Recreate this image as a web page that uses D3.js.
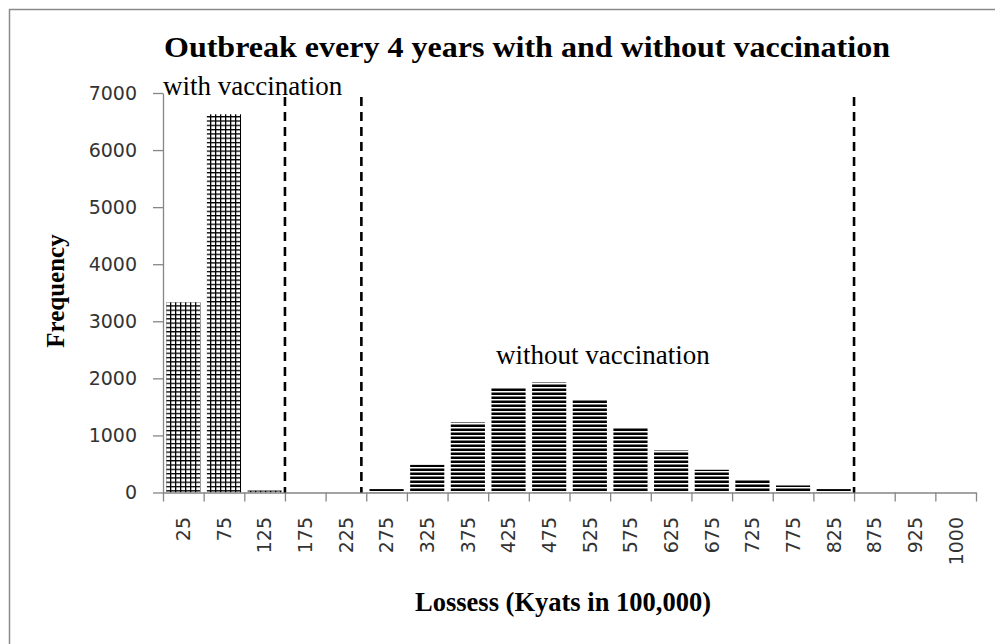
<!DOCTYPE html>
<html>
<head>
<meta charset="utf-8">
<script src="https://cdn.jsdelivr.net/npm/d3@7"></script>
<style>
  body { margin: 0; background: #fff; }
  svg { display: block; }
</style>
</head>
<body>
<svg id="chart" width="995" height="644"></svg>
<script>
// Loss classes (Kyats in 100,000), one bar slot per class
const categories = ["25", "75", "125", "175", "225", "275", "325", "375", "425", "475",
                    "525", "575", "625", "675", "725", "775", "825", "875", "925", "1000"];
// Simulated frequencies
const withVaccination    = [3333, 6627, 35, 0, 0, 0, 0, 0, 0, 0, 0, 0, 0, 0, 0, 0, 0, 0, 0, 0];
const withoutVaccination = [0, 0, 0, 0, 0, 60, 485, 1227, 1840, 1927, 1624, 1139, 736, 398, 222, 123, 60, 0, 0, 0];
// Frequency axis ticks
const yTicks = [0, 1000, 2000, 3000, 4000, 5000, 6000, 7000];
// Loss values of the dashed range separators and the height they reach
const separators = [150, 244, 850];
const separatorTop = 6930;

const titleText = "Outbreak every 4 years with and without vaccination";
const xTitleText = "Lossess (Kyats in 100,000)";
const yTitleText = "Frequency";
const withLabel = "with vaccination";
const withoutLabel = "without vaccination";

const svg = d3.select("#chart");
const plot = { left: 163, right: 976, top: 93, bottom: 492.5 };

// Fill patterns
const defs = svg.append("defs");
const grid = defs.append("pattern")
  .attr("id", "gridFill").attr("patternUnits", "userSpaceOnUse")
  .attr("width", 5).attr("height", 4.3);
grid.append("rect").attr("width", 5).attr("height", 4.3).attr("fill", "#fff");
grid.append("rect").attr("x", 0).attr("y", 0).attr("width", 1.3).attr("height", 4.3).attr("fill", "#000");
grid.append("rect").attr("x", 0).attr("y", 0).attr("width", 5).attr("height", 1.3).attr("fill", "#000");

const stripes = defs.append("pattern")
  .attr("id", "stripeFill").attr("patternUnits", "userSpaceOnUse")
  .attr("width", 8).attr("height", 4);
stripes.append("rect").attr("width", 8).attr("height", 4).attr("fill", "#fff");
stripes.append("rect").attr("y", 0.5).attr("width", 8).attr("height", 2.5).attr("fill", "#000");

// Outer frame (top and left edges visible)
svg.append("path")
  .attr("d", "M9.5,650 V9.5 H1000")
  .attr("fill", "none").attr("stroke", "#8a8a8a").attr("stroke-width", 1.5);

// Scales
const x = d3.scaleBand().domain(categories).range([plot.left, plot.right])
  .paddingInner(0.16).paddingOuter(0.08);
const lossX = d3.scaleLinear().domain([0, 1000]).range([plot.left, plot.right]);
const y = d3.scaleLinear().domain([0, 7000]).range([plot.bottom, plot.top]);

// Bars
svg.append("g").selectAll("rect")
  .data(categories.map((c, i) => ({ c, v: withVaccination[i] })).filter(d => d.v > 0))
  .join("rect")
  .attr("x", d => x(d.c)).attr("width", x.bandwidth())
  .attr("y", d => y(d.v)).attr("height", d => y(0) - y(d.v))
  .attr("fill", "url(#gridFill)");

svg.append("g").selectAll("rect")
  .data(categories.map((c, i) => ({ c, v: withoutVaccination[i] })).filter(d => d.v > 0))
  .join("rect")
  .attr("x", d => x(d.c)).attr("width", x.bandwidth())
  .attr("y", d => y(d.v)).attr("height", d => y(0) - y(d.v))
  .attr("fill", "url(#stripeFill)");

// Y axis
const yAxis = svg.append("g")
  .attr("transform", `translate(${plot.left},0)`)
  .call(d3.axisLeft(y).tickValues(yTicks).tickFormat(d3.format("d"))
    .tickSize(10).tickSizeOuter(0).tickPadding(16));
yAxis.select(".domain").attr("stroke", "#868686").attr("stroke-width", 1.3);
yAxis.selectAll(".tick line").attr("stroke", "#868686").attr("stroke-width", 1.3);
yAxis.selectAll(".tick text")
  .attr("font-family", "DejaVu Sans").attr("font-size", 19).attr("fill", "#333");

// X axis: ticks on class boundaries, labels in the class centres
const xAxis = svg.append("g")
  .attr("transform", `translate(0,${plot.bottom})`)
  .call(d3.axisBottom(lossX).tickValues(d3.range(0, 1001, 50)).tickFormat("").tickSize(9).tickSizeOuter(0));
xAxis.select(".domain").attr("stroke", "#868686").attr("stroke-width", 1.3);
xAxis.selectAll(".tick line").attr("stroke", "#868686").attr("stroke-width", 1.3);

svg.append("g").selectAll("text")
  .data(categories)
  .join("text")
  .attr("transform", d => `translate(${x(d) + x.bandwidth() / 2},517) rotate(-90)`)
  .attr("text-anchor", "end").attr("dy", "0.36em")
  .attr("font-family", "DejaVu Sans").attr("font-size", 19).attr("fill", "#333")
  .text(d => d);

// Dashed separators
svg.append("g").selectAll("line")
  .data(separators)
  .join("line")
  .attr("x1", d => lossX(d)).attr("x2", d => lossX(d))
  .attr("y1", y(separatorTop)).attr("y2", y(0))
  .attr("stroke", "#000").attr("stroke-width", 2.6).attr("stroke-dasharray", "9,6");

// Titles and annotations
svg.append("text")
  .attr("x", 164).attr("y", 57)
  .attr("textLength", 726).attr("lengthAdjust", "spacingAndGlyphs")
  .attr("font-family", "Liberation Serif").attr("font-weight", "bold").attr("font-size", 30)
  .attr("fill", "#000").text(titleText);

svg.append("text")
  .attr("x", 563).attr("y", 611).attr("text-anchor", "middle")
  .attr("font-family", "Liberation Serif").attr("font-weight", "bold").attr("font-size", 26.5)
  .attr("fill", "#000").text(xTitleText);

svg.append("text")
  .attr("transform", "translate(64,291) rotate(-90)").attr("text-anchor", "middle")
  .attr("font-family", "Liberation Serif").attr("font-weight", "bold").attr("font-size", 25)
  .attr("fill", "#000").text(yTitleText);

svg.append("text")
  .attr("x", 163).attr("y", 95)
  .attr("font-family", "Liberation Serif").attr("font-size", 27)
  .attr("fill", "#000").text(withLabel);

svg.append("text")
  .attr("x", 496).attr("y", 364)
  .attr("font-family", "Liberation Serif").attr("font-size", 27)
  .attr("fill", "#000").text(withoutLabel);
</script>
</body>
</html>
